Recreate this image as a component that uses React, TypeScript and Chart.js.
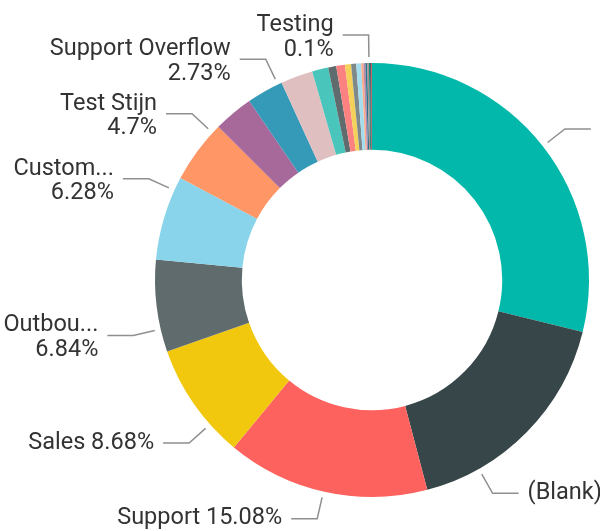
import React, { useEffect, useRef } from 'react';
import { Chart, registerables } from 'chart.js';

Chart.register(...registerables);

// ---- data ----
const categories = [
  'Inbound', '(Blank)', 'Support', 'Sales', 'Outbound', 'Customer Service', 'Test Stijn',
  'Escalations', 'Support Overflow', 'Billing', 'Retention', 'Onboarding', 'Partners',
  'Returns', 'Warranty', 'Feedback', 'Training', 'Internal', 'Archive', 'Survey',
  'Testing', 'Demo', 'Other',
];
const values = [
  28.85, 17.05, 15.08, 8.68, 6.84, 6.28, 4.7,
  2.95, 2.73, 2.4, 1.2, 0.6, 0.65,
  0.45, 0.38, 0.36, 0.17, 0.15, 0.13, 0.12,
  0.1, 0.07, 0.06,
];
const colors = [
  '#01B8AA', '#374649', '#FD625E', '#F2C80F', '#5F6B6D', '#8AD4EB', '#FE9666',
  '#A66999', '#3599B8', '#DFBFBF', '#4AC5BB', '#5F6B6D', '#FB8281',
  '#F4D25A', '#7F898A', '#A4DDEE', '#FDAB89', '#B687AC', '#28738A', '#A78F8F',
  '#168980', '#293537', '#BB4A4A',
];

// labelled slices (which, shown text, where along the slice the leader starts, two-line?)
const labelNames = ['Inbound', '(Blank)', 'Support', 'Sales', 'Outbound', 'Customer Service', 'Test Stijn', 'Support Overflow', 'Testing'];
const labelTexts = ['Inbound', '(Blank)', 'Support', 'Sales', 'Outbou...', 'Custom...', 'Test Stijn', 'Support Overflow', 'Testing'];
const labelFractions = [0.5, 0.76, 0.51, 0.28, 0.25, 0.84, 0.87, 0.89, 0.1];
const labelTwoLine = [false, false, false, false, true, true, true, true, true];

const fmtPct = (v: number, total: number) => `${parseFloat(((v / total) * 100).toFixed(2))}%`;

const labelPlugin = {
  id: 'pbiLabels',
  afterDatasetsDraw(chart: any) {
    const ctx = chart.ctx as CanvasRenderingContext2D;
    const meta = chart.getDatasetMeta(0);
    const total = values.reduce((a, b) => a + b, 0);
    ctx.save();
    ctx.font = '23.5px Roboto';
    labelNames.forEach((name, i) => {
      const idx = categories.indexOf(name);
      const arc = meta.data[idx];
      const { x, y, startAngle, endAngle, outerRadius } = arc.getProps(
        ['x', 'y', 'startAngle', 'endAngle', 'outerRadius'],
        true,
      );
      const a = startAngle + (endAngle - startAngle) * labelFractions[i];
      const r1 = outerRadius + 6;
      const r2 = outerRadius + 28;
      const sx = x + Math.cos(a) * r1;
      const sy = y + Math.sin(a) * r1;
      const ex = x + Math.cos(a) * r2;
      const ey = y + Math.sin(a) * r2;
      const right = Math.cos(a) > 0;
      const dir = right ? 1 : -1;
      const hx = ex + dir * 26;

      ctx.strokeStyle = '#8f8f8f';
      ctx.lineWidth = 1.5;
      ctx.beginPath();
      ctx.moveTo(sx, sy);
      ctx.lineTo(ex, ey);
      ctx.lineTo(hx, ey);
      ctx.stroke();

      const tx = hx + dir * 9;
      ctx.fillStyle = '#333333';
      ctx.textAlign = right ? 'left' : 'right';
      ctx.textBaseline = 'alphabetic';
      const pct = fmtPct(values[idx], total);
      if (labelTwoLine[i]) {
        ctx.fillText(labelTexts[i], tx, ey - 4);
        ctx.fillText(pct, tx, ey + 20.5);
      } else {
        ctx.fillText(`${labelTexts[i]} ${pct}`, tx, ey + 5.5);
      }
    });
    ctx.restore();
  },
};

export default function App() {
  const ref = useRef<HTMLCanvasElement | null>(null);
  useEffect(() => {
    if (!ref.current) return;
    const chart = new Chart(ref.current, {
      type: 'doughnut',
      data: {
        labels: categories,
        datasets: [
          {
            data: values,
            backgroundColor: colors,
            borderWidth: 0,
            hoverOffset: 0,
            offset: 0,
          },
        ],
      },
      options: {
        responsive: false,
        animation: false,
        devicePixelRatio: 1,
        cutout: '60%',
        layout: { padding: { left: 155, right: 11, top: 63, bottom: 34 } },
        plugins: {
          legend: { display: false },
          tooltip: { enabled: false },
        },
      },
      plugins: [labelPlugin],
    } as any);
    return () => chart.destroy();
  }, []);
  return (
    <div style={{ position: 'fixed', left: 0, top: 0, width: 600, height: 531, background: '#fff', overflow: 'hidden' }}>
      <canvas ref={ref} width={600} height={531} style={{ display: 'block' }} />
    </div>
  );
}
